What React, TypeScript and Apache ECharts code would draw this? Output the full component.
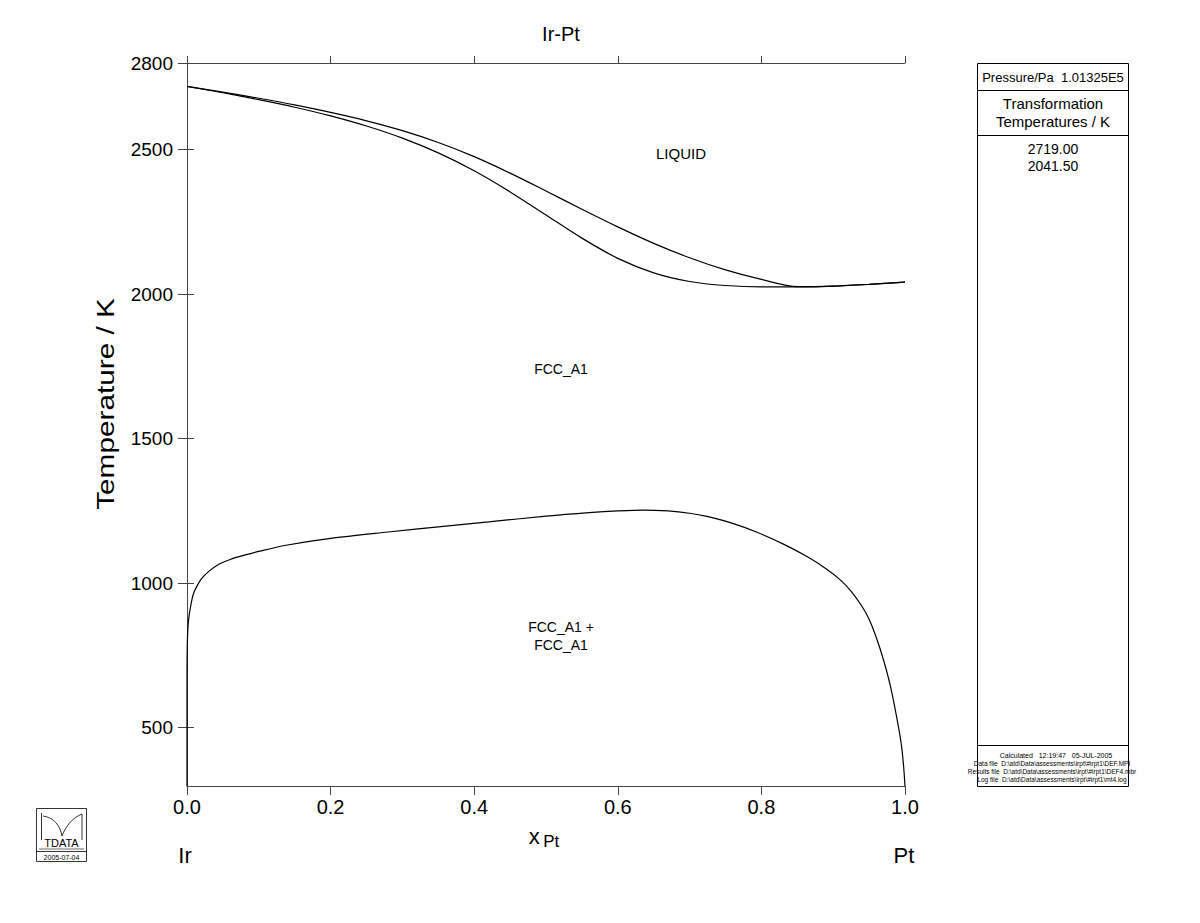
import React, { useEffect, useRef } from "react";
import * as echarts from "echarts";

const liquidusX = [0, 0.05, 0.1, 0.15, 0.2, 0.25, 0.3, 0.35, 0.4, 0.45, 0.5, 0.55, 0.6, 0.65, 0.7, 0.75, 0.8, 0.85, 0.9, 0.95, 1.0];
const liquidusT = [2719, 2699, 2678, 2655, 2629, 2600, 2566, 2525, 2476, 2419, 2357, 2294, 2233, 2176, 2126, 2084, 2051, 2026, 2028, 2034, 2041.5];

const solidusX = [0, 0.05, 0.1, 0.15, 0.2, 0.25, 0.3, 0.35, 0.4, 0.45, 0.5, 0.55, 0.6, 0.65, 0.7, 0.75, 0.8, 0.85, 0.9, 0.95, 1.0];
const solidusT = [2719, 2697, 2673, 2647, 2617, 2582, 2540, 2489, 2427, 2354, 2274, 2194, 2124, 2074, 2044, 2030, 2025, 2025, 2028, 2034, 2041.5];

const gapX = [0, 0.000001, 0.00001, 0.0001, 0.0004, 0.001, 0.002, 0.004, 0.007, 0.01, 0.015, 0.02, 0.03, 0.045, 0.06, 0.08, 0.1, 0.14, 0.2, 0.28, 0.35, 0.42, 0.5, 0.56, 0.6, 0.635, 0.67, 0.7, 0.724, 0.76, 0.794, 0.83, 0.8635, 0.89, 0.909, 0.925, 0.94, 0.95, 0.96, 0.97, 0.98, 0.99, 0.995, 0.998, 1.0];
const gapT = [298.15, 560, 655, 730, 785, 830, 868, 905, 945, 970, 995, 1015, 1040, 1066, 1082, 1097, 1110, 1132, 1155, 1177, 1195, 1212, 1232, 1244, 1250, 1253, 1250, 1242, 1231, 1207, 1176, 1136, 1092, 1050, 1013, 972, 920, 875, 812, 735, 640, 515, 440, 368, 298.15];

const yTickValues = [500, 1000, 1500, 2000, 2500, 2800];
const yRightTicks = [500, 1000, 1500, 2000, 2500];
const transformationTemps = ["2719.00", "2041.50"];
const phaseLabels = ["LIQUID", "FCC_A1", "FCC_A1 +", "FCC_A1"];

const FONT = "'Liberation Sans', Arial, Helvetica, sans-serif";
const AXIS_COLOR = "#444";

function pairs(xs: number[], ys: number[]) {
  return xs.map((x, i) => [x, ys[i]]);
}

export default function App() {
  const ref = useRef<HTMLDivElement>(null);
  useEffect(() => {
    if (!ref.current) return;
    const chart = echarts.init(ref.current, null, { renderer: "svg" });
    const axisLine = { show: true, lineStyle: { color: AXIS_COLOR, width: 1 } };
    const lineSeries = (name: string, data: number[][]) => ({
      name,
      type: "line",
      data,
      showSymbol: false,
      smooth: 0.3,
      lineStyle: { color: "#000", width: 1.2 },
      xAxisIndex: 0,
      yAxisIndex: 0,
      silent: true,
    });
    const txt = (x: number, y: number, text: string, size: number, extra: any = {}) => ({
      type: "text",
      x,
      y,
      ...extra,
      style: { text, font: `${size}px ${FONT}`, fill: "#000", align: "center", verticalAlign: "middle" },
    });
    chart.setOption({
      animation: false,
      backgroundColor: "#fff",
      grid: { left: 187, top: 63, width: 718, height: 723, containLabel: false },
      xAxis: [
        {
          type: "value",
          position: "bottom",
          min: 0,
          max: 1,
          interval: 0.2,
          axisLine,
          axisTick: { show: true, length: 9, inside: false, lineStyle: { color: AXIS_COLOR } },
          axisLabel: {
            fontSize: 20,
            color: "#000",
            fontFamily: FONT,
            margin: 11,
            formatter: (v: number) => v.toFixed(1),
          },
          splitLine: { show: false },
        },
        {
          type: "value",
          position: "top",
          min: 0,
          max: 1,
          interval: 0.2,
          axisLine,
          axisTick: { show: true, length: 7, lineStyle: { color: AXIS_COLOR } },
          axisLabel: { show: false },
          splitLine: { show: false },
        },
      ],
      yAxis: [
        {
          type: "value",
          position: "left",
          min: 298.15,
          max: 2800,
          axisLine,
          axisTick: { show: true, length: 9, customValues: yTickValues, lineStyle: { color: AXIS_COLOR } },
          axisLabel: {
            fontSize: 19,
            color: "#000",
            fontFamily: FONT,
            margin: 14,
            customValues: yTickValues,
            formatter: (v: number) => String(Math.round(v)),
          },
          splitLine: { show: false },
        },
        {
          type: "value",
          position: "right",
          min: 298.15,
          max: 2800,
          axisLine,
          axisTick: { show: true, length: 7, customValues: yRightTicks, lineStyle: { color: AXIS_COLOR } },
          axisLabel: { show: false, customValues: yRightTicks },
          splitLine: { show: false },
        },
      ],
      series: [
        lineSeries("liquidus", pairs(liquidusX, liquidusT)),
        lineSeries("solidus", pairs(solidusX, solidusT)),
        lineSeries("miscibility", pairs(gapX, gapT)),
      ],
      graphic: [
        txt(561, 34, "Ir-Pt", 20),
        txt(106, 404, "Temperature / K", 24, { rotation: Math.PI / 2, scaleX: 1.24 }),
        {
          type: "text", x: 544, y: 836,
          style: {
            text: "{a|x} {b|Pt}",
            fill: "#000",
            align: "center",
            verticalAlign: "middle",
            rich: {
              a: { fontSize: 22, fontFamily: FONT, fill: "#000" },
              b: { fontSize: 17, fontFamily: FONT, fill: "#000", padding: [10, 0, 0, 0] },
            },
          },
        },
        txt(185, 855, "Ir", 22),
        txt(904, 855, "Pt", 22),
        txt(681, 153, phaseLabels[0], 15),
        txt(561, 369, phaseLabels[1], 14),
        txt(561, 627, phaseLabels[2], 14),
        txt(561, 645, phaseLabels[3], 14),
        // right panel
        { type: "rect", shape: { x: 977.5, y: 63.5, width: 151, height: 723 }, style: { fill: "none", stroke: "#000", lineWidth: 1 } },
        { type: "line", shape: { x1: 977.5, y1: 90.5, x2: 1128.5, y2: 90.5 }, style: { stroke: "#000", lineWidth: 1 } },
        { type: "line", shape: { x1: 977.5, y1: 135.5, x2: 1128.5, y2: 135.5 }, style: { stroke: "#000", lineWidth: 1 } },
        { type: "line", shape: { x1: 977.5, y1: 745.5, x2: 1128.5, y2: 745.5 }, style: { stroke: "#000", lineWidth: 1 } },
        txt(1053, 77, "Pressure/Pa  1.01325E5", 13),
        txt(1053, 103, "Transformation", 15),
        txt(1053, 121, "Temperatures / K", 15),
        txt(1053, 149, transformationTemps[0], 14),
        txt(1053, 166, transformationTemps[1], 14),
        txt(1056, 755, "Calculated   12:19:47   05-JUL-2005", 7),
        txt(1052, 763, "Data file  D:\\atd\\Data\\assessments\\irpt\\#irpt1\\DEF.MPI", 6.5),
        txt(1052, 771, "Results file  D:\\atd\\Data\\assessments\\irpt\\#irpt1\\DEF4.mbr", 6.5),
        txt(1052, 779, "Log file  D:\\atd\\Data\\assessments\\irpt\\#irpt1\\mt4.log", 6.5),
        // logo
        { type: "rect", shape: { x: 36.5, y: 808.5, width: 50, height: 53 }, style: { fill: "none", stroke: "#000", lineWidth: 0.8 } },
        { type: "line", shape: { x1: 36.5, y1: 851.5, x2: 86.5, y2: 851.5 }, style: { stroke: "#000", lineWidth: 0.8 } },
        { type: "line", shape: { x1: 41.5, y1: 813, x2: 41.5, y2: 840 }, style: { stroke: "#000", lineWidth: 0.8 } },
        { type: "line", shape: { x1: 39, y1: 849, x2: 84, y2: 849 }, style: { stroke: "#000", lineWidth: 0.6 } },
        { type: "bezierCurve", shape: { x1: 43, y1: 816, cpx1: 55, cpy1: 818, cpx2: 60, cpy2: 826, x2: 62, y2: 836 }, style: { stroke: "#000", lineWidth: 0.8, fill: "none" } },
        { type: "bezierCurve", shape: { x1: 62, y1: 836, cpx1: 66, cpy1: 826, cpx2: 72, cpy2: 818, x2: 82, y2: 814 }, style: { stroke: "#000", lineWidth: 0.8, fill: "none" } },
        { type: "line", shape: { x1: 82, y1: 814, x2: 82, y2: 840 }, style: { stroke: "#000", lineWidth: 0.8 } },
        txt(61.5, 843, "TDATA", 11),
        txt(61.5, 857, "2005-07-04", 7),
      ],
    });
    return () => chart.dispose();
  }, []);
  return <div ref={ref} style={{ position: "fixed", left: 0, top: 0, width: 1200, height: 923, background: "#fff" }} />;
}
